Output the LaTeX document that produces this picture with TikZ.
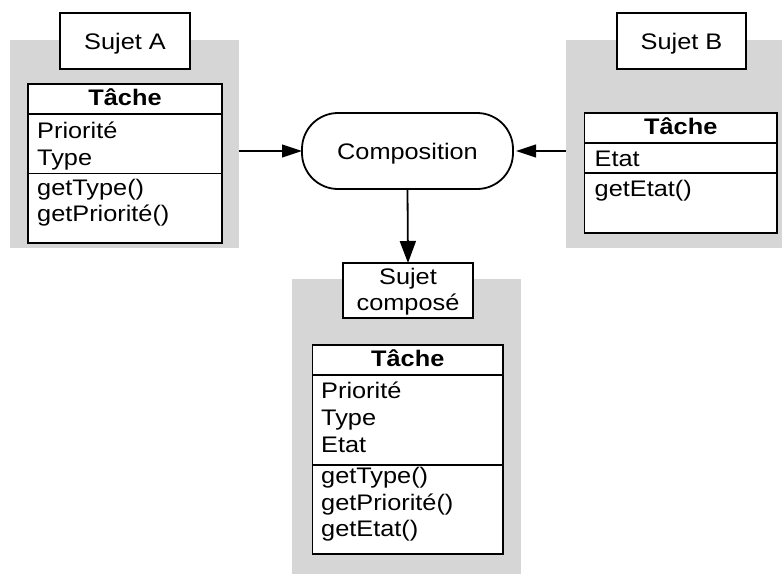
\documentclass[tikz,border=0pt]{standalone}
\usepackage{fontspec}
\setmainfont{Liberation Sans}[FakeStretch=1.125]
\usetikzlibrary{arrows.meta}
\definecolor{panelgray}{RGB}{214,214,214}
\begin{document}
\begin{tikzpicture}[x=1pt,y=-1pt,
  font=\fontsize{22.5}{26.7}\selectfont,
  panel/.style={fill=panelgray, draw=none, inner sep=0, outer sep=0},
  frame/.style={draw, line width=1.8pt, fill=white, inner sep=0, outer sep=0},
  txt/.style={anchor=base west, inner sep=0},
  ctxt/.style={anchor=base, inner sep=0},
  ttl/.style={anchor=base, inner sep=0, font=\fontsize{22.5}{26.7}\selectfont\bfseries},
  sep/.style={line width=1.8pt},
  hconn/.style={line width=1.8pt, -{Triangle[length=20pt,width=12.7pt]}},
  vconn/.style={line width=1.8pt, -{Triangle[length=22pt,width=16pt]}},
  ]
\useasboundingbox (0,0) rectangle (782,576);

% grey panels
\node[panel, minimum width=229pt, minimum height=208pt] (grayA) at (124.5,144) {};
\node[panel, minimum width=216pt, minimum height=208pt] (grayB) at (674,144) {};
\node[panel, minimum width=229pt, minimum height=295pt] (grayC) at (406.5,426.5) {};

% subject labels
\node[frame, minimum width=130pt, minimum height=56pt] (sujA) at (125,41) {};
\node[ctxt] (sujAtxt) at (125,49.3) {Sujet A};
\node[frame, minimum width=129pt, minimum height=56pt] (sujB) at (681.5,41) {};
\node[ctxt] (sujBtxt) at (681.5,49.3) {Sujet B};
\node[frame, minimum width=130pt, minimum height=55pt] (sujC) at (408,290.5) {};
\node[ctxt] (sujC1) at (408,284) {Sujet};
\node[ctxt] (sujC2) at (408,310) {composé};

% class A
\node[frame, minimum width=194pt, minimum height=159pt] (clsA) at (125,163.5) {};
\draw[sep] (clsA.west |- 0,114) -- (clsA.east |- 0,114);
\draw[sep] (clsA.west |- 0,173.5) -- (clsA.east |- 0,173.5);
\node[ttl] (tA) at (125,105) {Tâche};
\node[txt] (a1) at (37,138.5) {Priorité};
\node[txt] (a2) at (37,165) {Type};
\node[txt] (a3) at (37,195) {getType()};
\node[txt] (a4) at (37,221.5) {getPriorité()};

% class B
\node[frame, minimum width=192.5pt, minimum height=120pt] (clsB) at (680.75,173.3) {};
\draw[sep] (clsB.west |- 0,143.3) -- (clsB.east |- 0,143.3);
\draw[sep] (clsB.west |- 0,173.3) -- (clsB.east |- 0,173.3);
\node[ttl] (tB) at (680.75,134.5) {Tâche};
\node[txt] (b1) at (594.5,166) {Etat};
\node[txt] (b2) at (594.5,196) {getEtat()};

% class C
\node[frame, minimum width=190.5pt, minimum height=209pt] (clsC) at (407.75,449.5) {};
\draw[sep] (clsC.west |- 0,375) -- (clsC.east |- 0,375);
\draw[sep] (clsC.west |- 0,465) -- (clsC.east |- 0,465);
\node[ttl] (tC) at (407.75,366.5) {Tâche};
\node[txt] (c1) at (321,398.5) {Priorité};
\node[txt] (c2) at (321,425.5) {Type};
\node[txt] (c3) at (321,452.5) {Etat};
\node[txt] (c4) at (321,483.5) {getType()};
\node[txt] (c5) at (321,510) {getPriorité()};
\node[txt] (c6) at (321,536.5) {getEtat()};

% composition
\node[frame, rounded corners=36pt, minimum width=211pt, minimum height=76pt] (comp) at (407.5,151) {};
\node[ctxt] (comptxt) at (407.5,159) {Composition};

% connectors
\draw[hconn] (grayA.east |- comp) -- (comp.west);
\draw[hconn, shorten >=3pt] (grayB.west |- comp) -- (comp.east);
\draw[vconn] (comp.south) -- (sujC.north);
\end{tikzpicture}
\end{document}
